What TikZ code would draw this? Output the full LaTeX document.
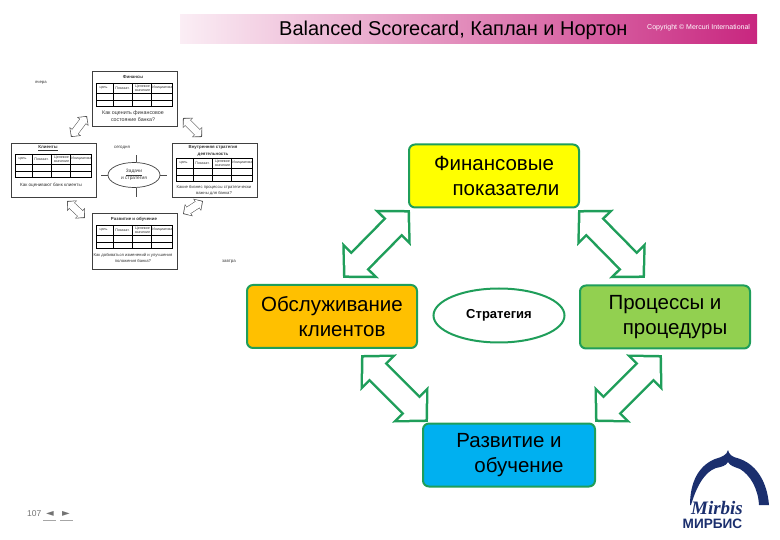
\documentclass[tikz,border=0pt]{standalone}
\usepackage{fontspec}
\setmainfont{Liberation Sans}
\newfontfamily\symfont{DejaVu Sans}
\newfontfamily\logofont{Liberation Serif}
\usetikzlibrary{arrows.meta,positioning,shapes,calc}
\definecolor{frame}{RGB}{31,158,90}
\definecolor{banner}{RGB}{200,38,127}
\definecolor{mirbis}{RGB}{27,47,110}
\definecolor{finfill}{RGB}{255,255,0}
\definecolor{clifill}{RGB}{255,192,0}
\definecolor{procfill}{RGB}{146,208,80}
\definecolor{devfill}{RGB}{0,176,240}

% one small card of the scorecard: name, centre x, top y, bottom y, table y
\newcommand{\scorecard}[5]{
  \node[card, minimum width=85pt, minimum height=#4pt-#3pt] (#1) at (#2,{(#3+#4)/2}) {};
  \node[tiny text, minimum width=19pt] (#1c1) at (#2-31,#5+5) {цель};
  \node[tiny text, minimum width=19pt] (#1c2) at (#2-12,#5+5) {Показат.};
  \node[tiny text, minimum width=19pt, align=center] (#1c3) at (#2+8,#5+5) {Целевое\\значение};
  \node[tiny text, minimum width=19pt] (#1c4) at (#2+28,#5+5) {Инициатива};
  \draw[thick] (#2-38,#5) rectangle (#2+38,#5+23);
  \draw[thick] (#2-38,#5+10) -- (#2+38,#5+10);
  \draw[thick] (#2-38,#5+17) -- (#2+38,#5+17);
  \foreach \dx in {-21,-2,17} {\draw (#2+\dx,#5) -- (#2+\dx,#5+23);}
}

\tikzset{
  bigbox/.style={draw=frame, line width=2pt, rounded corners=6pt, minimum width=170pt, minimum height=63pt, align=center, font=\fontsize{20.5}{25}\selectfont, execute at begin node={\rule{0pt}{19pt}}},
  arrout/.style={frame, line width=26pt, {Triangle[length=25pt,width=50pt]}-{Triangle[length=25pt,width=50pt]}},
  arrin/.style={white, line width=21pt, shorten >=3.5pt, shorten <=3.5pt, {Triangle[length=19pt,width=38pt]}-{Triangle[length=19pt,width=38pt]}},
  thinout/.style={black!70, line width=8pt, {Triangle[length=7pt,width=14pt]}-{Triangle[length=7pt,width=14pt]}},
  thinin/.style={white, line width=7pt, shorten >=1.2pt, shorten <=1.2pt, {Triangle[length=5.2pt,width=11.4pt]}-{Triangle[length=5.2pt,width=11.4pt]}},
  card/.style={draw=black!75, line width=.7pt, fill=white, inner sep=0pt},
  tiny text/.style={font=\fontsize{3.6}{3.8}\selectfont, text=black!80, inner sep=0pt},
  card head/.style={font=\bfseries\fontsize{4.4}{7}\selectfont, text=black!80, inner sep=0pt, align=center},
  card ask/.style={font=\fontsize{4.6}{6.8}\selectfont, text=black!80, inner sep=0pt, align=center},
}

\begin{document}
\begin{tikzpicture}[x=1pt,y=-1pt]
\useasboundingbox (0,0) rectangle (780,540);

% banner
\shade[left color=banner!8, right color=banner, shading angle=90] (180,15) rectangle (757,44);
\node[font=\fontsize{20}{22}\selectfont, anchor=west, inner sep=0pt] (title) at (279,30) {Balanced Scorecard, Каплан и Нортон};
\node[font=\fontsize{7}{8}\selectfont, text=white, anchor=west, inner sep=0pt] (copy) at (647,27.5) {Copyright © Mercuri International};

% thumbnail
\scorecard{fincard}{134.5}{71}{126}{83}
\scorecard{clicard}{53.5}{143}{197}{154}
\scorecard{proccard}{214.5}{143}{197}{158}
\scorecard{devcard}{134.5}{213}{269}{225}
\node[card head] (finhead) at (133,77) {Финансы};
\node[card head] (clihead) at (48,148.5) {\underline{Клиенты}};
\node[card head] (prochead) at (213,150.5) {Внутренняя стратегия\\деятельность};
\node[card head] (devhead) at (134,219) {Развитие и обучение};
\node[card ask, font=\fontsize{5.3}{7}\selectfont] (finask) at (133,116) {Как оценить финансовое\\состояние банка?};
\node[card ask] (cliask) at (51,185.5) {Как оценивают банк клиенты};
\node[card ask, font=\fontsize{4.2}{6}\selectfont] (procask) at (214,190) {Какие бизнес процессы стратегически\\важны для банка?};
\node[card ask, font=\fontsize{4.2}{6.5}\selectfont] (devask) at (133,258) {Как добиваться изменений и улучшения\\положения банка?};

\node[draw=black!75, ellipse, minimum width=52pt, minimum height=25pt, inner sep=0pt, line width=.7pt] (goal) at (134,175) {};
\node[tiny text, align=center, font=\fontsize{4.8}{5}\selectfont] (goaltext) at (134,175) {\underline{Задачи}\\и стратегия};
\draw[black!70] (goal.north) ++(2,0) -- ++(0,-7);
\draw[black!70] (goal.south) ++(2,0) -- ++(0,9);
\draw[black!70] (goal.west) -- ++(-7,0);
\draw[black!70] (goal.east) -- ++(7,0);
\node[tiny text, font=\fontsize{4.4}{5}\selectfont] (today) at (122,148) {сегодня};
\node[tiny text, font=\fontsize{4.2}{5}\selectfont] (yest) at (41,83) {вчера};
\node[tiny text, font=\fontsize{4.4}{5}\selectfont] (tomor) at (229,262) {завтра};

\coordinate (t1a) at (71,137);
\coordinate (t1b) at (87,116);
\coordinate (t2a) at (183,118);
\coordinate (t2b) at (202,137);
\coordinate (t3a) at (67,201);
\coordinate (t3b) at (85,218);
\coordinate (t4a) at (183,214);
\coordinate (t4b) at (203,201);
\foreach \a/\b in {t1a/t1b,t2a/t2b,t3a/t3b,t4a/t4b} {
  \draw[thinout] (\a) -- (\b);
  \draw[thinin] (\a) -- (\b);
}

% main boxes
\node[bigbox, fill=finfill] (fin) at (494,176) {Финансовые\\\hspace*{24pt}показатели};
\node[bigbox, fill=clifill] (cli) at (332,316.5) {Обслуживание\\\hspace*{20pt}клиентов};
\node[bigbox, fill=procfill] (proc) at (665,317) {Процессы и\\\hspace*{20pt}процедуры};
\node[bigbox, fill=devfill, minimum width=172pt] (dev) at (509,455) {Развитие и\\\hspace*{20pt}обучение};
\node[ellipse, draw=frame, line width=2pt, fill=white, minimum width=131pt, minimum height=54pt, inner sep=0pt, font=\bfseries\fontsize{13}{15}\selectfont] (strat) at (499,315.5) {Стратегия};

% double arrows
\coordinate (a1) at (410,210);
\coordinate (a2) at (343,278);
\coordinate (a3) at (578,210);
\coordinate (a4) at (645,278);
\coordinate (a5) at (361,355);
\coordinate (a6) at (428,422);
\coordinate (a7) at (595,422);
\coordinate (a8) at (662,355);
\foreach \a/\b in {a1/a2,a3/a4,a5/a6,a7/a8} {
  \draw[arrout] (\a) -- (\b);
  \draw[arrin] (\a) -- (\b);
}

% page number
\node[font=\fontsize{8.5}{10}\selectfont, text=black!55, anchor=west, inner sep=0pt] (page) at (27,514) {107};
\node[font=\symfont\fontsize{10}{11}\selectfont, text=black!55, inner sep=0pt] (prev) at (50,514) {◄};
\node[font=\symfont\fontsize{10}{11}\selectfont, text=black!55, inner sep=0pt] (next) at (66,514) {►};
\draw[black!35] (43,520.5) -- (56,520.5);
\draw[black!35] (60,520.5) -- (73,520.5);

% logo
\fill[mirbis] (728,450) .. controls (729,455) and (733,457) .. (737,458)
  .. controls (755,463) and (767,480) .. (769,505) -- (759,505)
  .. controls (758,488) and (750,475) .. (740,469)
  .. controls (735,467) and (730,466) .. (728,462)
  .. controls (726,466) and (721,467) .. (716,468)
  .. controls (704,472) and (696,488) .. (691,505) -- (690,505)
  .. controls (690,483) and (698,466) .. (715,459)
  .. controls (722,457) and (727,455) .. (728,450) -- cycle;
\node[font=\logofont\bfseries\itshape\fontsize{19}{20}\selectfont, text=mirbis, inner sep=0pt] (mirb) at (717,508) {Mirbis};
\node[font=\bfseries\fontsize{13.6}{14}\selectfont, text=mirbis, inner sep=0pt] (mirbru) at (712.5,524) {МИРБИС};
\end{tikzpicture}
\end{document}
